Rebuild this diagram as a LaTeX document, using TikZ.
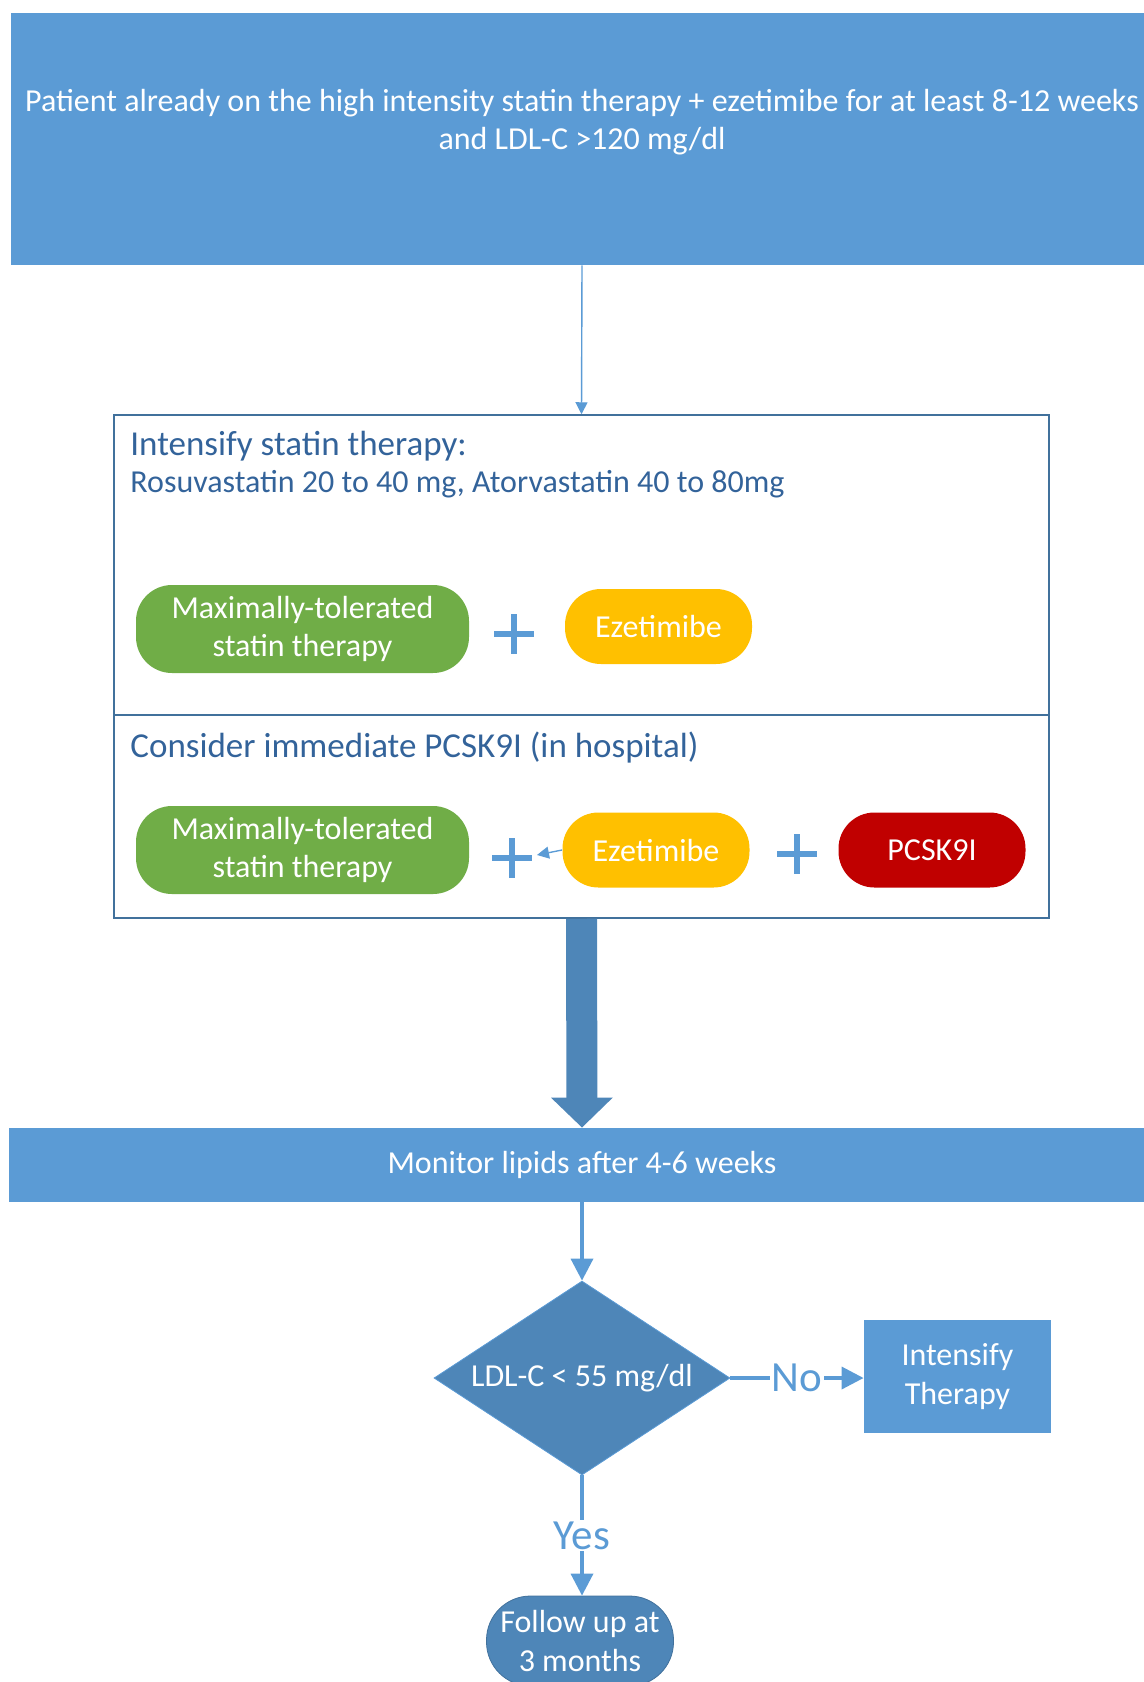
\documentclass[tikz,border=0pt]{standalone}
\usepackage{fontspec}
\setmainfont{Carlito}
\usepackage{tikz}
\usetikzlibrary{positioning,shapes.geometric,arrows.meta,calc}

\definecolor{boxblue}{HTML}{5B9BD5}
\definecolor{darkblue}{HTML}{4E86B8}
\definecolor{framecol}{HTML}{41719C}
\definecolor{titleblue}{HTML}{33639A}
\definecolor{pillgreen}{HTML}{70AD47}
\definecolor{pillyellow}{HTML}{FFC000}
\definecolor{pillred}{HTML}{C00000}

\begin{document}
\begin{tikzpicture}[x=0.5pt,y=-0.5pt,
        every node/.style={font=\fontsize{16}{19.3}\selectfont},
        band/.style={fill=boxblue, text=white, inner sep=0pt, align=center},
        frame/.style={draw=framecol, line width=0.75pt, inner sep=0pt},
        title/.style={text=titleblue, inner sep=0pt},
        pill/.style={rounded corners=18pt, text=white, align=center, inner sep=0pt},
        plusmark/.style={draw=boxblue, line width=2.7pt},
        flow/.style={draw=boxblue, line width=1.8pt, -{Triangle[length=11pt,width=11pt]}},
        thinflow/.style={draw=boxblue, line width=0.7pt, -{Triangle[length=6pt,width=6pt]}},
        bigarrow/.style={draw=darkblue, line width=15.5pt, -{Triangle[length=15pt,width=30pt]}},
        decision/.style={diamond, aspect=1.5, fill=darkblue, draw=boxblue, text=white,
            inner sep=0pt, minimum width=148pt, minimum height=97pt},
        answer/.style={fill=white, text=boxblue, inner sep=1pt, font=\fontsize{21.5}{25}\selectfont}]
    \useasboundingbox (0,0) rectangle (1144,1682);

    % starting point
    \node[band, minimum width=571pt, minimum height=126pt] (start) at (582,139) {};
    \node[text=white, align=center, inner sep=0pt] (starttext) at (582,122)
        {Patient already on the high intensity statin therapy + ezetimibe for at least 8-12 weeks\\and LDL-C >120 mg/dl};

    % treatment options
    \node[frame, minimum width=467.5pt, minimum height=150pt] (intens) at (581.5,565) {};
    \node[frame, minimum width=467.5pt, minimum height=101.5pt] (consider) at (581.5,816.5) {};
    \draw[thinflow] (start.south) -- (intens.north);
    \node[title, anchor=west, font=\fontsize{17.5}{21}\selectfont] (intenstitle) at (130,446) {Intensify statin therapy:};
    \node[title, anchor=west] (rosu) at (130,484) {Rosuvastatin 20 to 40 mg, Atorvastatin 40 to 80mg};
    \node[title, anchor=west, font=\fontsize{17.5}{21}\selectfont] (considertitle) at (130,748) {Consider immediate PCSK9I (in hospital)};

    \node[pill, fill=pillgreen, minimum width=166.5pt, minimum height=44pt] (statin1) at (302.5,629) {Maximally-tolerated\\statin therapy};
    \node[pill, fill=pillyellow, minimum width=93.5pt, minimum height=37.5pt] (eze1) at (658.5,626.5) {Ezetimibe};
    \node[pill, fill=pillgreen, minimum width=166.5pt, minimum height=44pt] (statin2) at (302.5,850) {Maximally-tolerated\\statin therapy};
    \node[pill, fill=pillyellow, minimum width=93.5pt, minimum height=37.5pt] (eze2) at (656,850) {Ezetimibe};
    \node[pill, fill=pillred, minimum width=93.5pt, minimum height=37.5pt] (pcsk) at (932,850) {PCSK9I};

    \coordinate (plus1) at (514,634);
    \coordinate (plus2) at (512,858);
    \coordinate (plus3) at (797,854);
    \foreach \p in {plus1,plus2,plus3}
        \draw[plusmark] ($(\p)+(-20,0)$) -- ($(\p)+(20,0)$) ($(\p)+(0,-20)$) -- ($(\p)+(0,20)$);
    \draw[thinflow] (eze2.west) -- ($(plus2)+(25,-3)$);

    % follow up
    \node[band, minimum width=573pt, minimum height=37pt] (monitor) at (582,1165) {Monitor lipids after 4-6 weeks};
    \draw[bigarrow] (consider.south) -- (monitor.north);

    \node[decision] (ldl) at (582,1378) {LDL-C < 55 mg/dl};
    \draw[flow] (monitor.south) -- (ldl.north);

    \node[band, minimum width=93.5pt, minimum height=56.5pt] (intensify) at (957.5,1376.5) {Intensify\\Therapy};
    \draw[flow] (ldl.east) -- node[answer] {No} (ldl.east -| intensify.west);

    \node[pill, fill=darkblue, draw=framecol, rounded corners=22pt, minimum width=93.5pt, minimum height=45pt] (follow) at (580,1641) {Follow up at\\3 months};
    \draw[flow] (ldl.south) -- node[answer] {Yes} (ldl.south |- follow.north);
\end{tikzpicture}
\end{document}
